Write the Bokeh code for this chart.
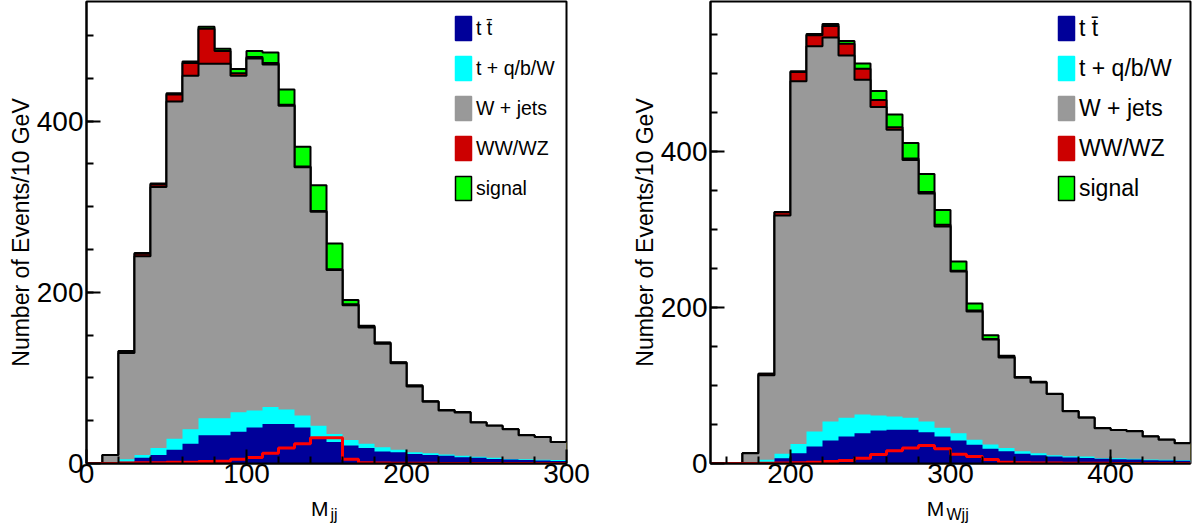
import numpy as np
from bokeh.plotting import figure
from bokeh.layouts import row, column
from bokeh.models import Range1d, Legend, LegendItem, FixedTicker
from bokeh.core.properties import value
from bokeh.embed import file_html
from bokeh.resources import INLINE

FONT = "Liberation Sans"

# ---------------- data ----------------
# left panel: M_jj, bins of 10 GeV (lower edges)
mjj_bin_low = [0, 10, 20, 30, 40, 50, 60, 70, 80, 90, 100, 110, 120, 130, 140,
               150, 160, 170, 180, 190, 200, 210, 220, 230, 240, 250, 260, 270, 280, 290]
mjj_ttbar = [0, 0, 2, 6.6, 10, 16, 23, 33, 33, 37, 42, 46, 46, 42, 29,
             25, 21, 18, 14, 13, 11, 10, 9, 7.4, 6.6, 5.4, 4.6, 4, 3.5, 3]
mjj_single_top = [0, 0, 3, 3.4, 8, 13, 17, 20, 20, 23, 20, 20, 17, 14, 15,
                  9.5, 6.5, 5, 5, 3, 2, 2, 1.5, 1.6, 1.4, 1.2, 0.8, 1, 1, 1]
mjj_wjets = [0, 10, 124, 232, 305, 394, 413, 414, 414, 393, 411, 400, 355, 290, 250,
             191.5, 157.5, 136, 121, 101, 77, 60, 51.5, 50.5, 40, 37.4, 34.6, 28, 26.5, 21]
mjj_ww = [0, 0, 2, 3, 3, 8, 15, 41, 15, 3, 2, 2, 1, 1, 1,
          1, 1, 1, 1, 1, 1, 0.5, 0.4, 0.5, 0, 0, 0, 0, 0, 0]
mjj_signal = [0, 0, 0.5, 1, 1, 1.5, 1.5, 2.3, 2.5, 5, 7, 12, 18, 23, 30,
              30, 5, 1, 0.5, 0.3, 0.2, 0.2, 0.1, 0.1, 0, 0, 0, 0, 0, 0]

# right panel: M_Wjj, bins of 10 GeV (lower edges)
mwjj_bin_low = [150, 160, 170, 180, 190, 200, 210, 220, 230, 240, 250, 260, 270, 280, 290,
                300, 310, 320, 330, 340, 350, 360, 370, 380, 390, 400, 410, 420, 430, 440]
mwjj_ttbar = [0, 0, 0, 1, 6.8, 13, 21.8, 29.5, 34.6, 38.9, 42.3, 43.2, 43.2, 40.2, 34.6,
              29.5, 24, 18.8, 15.8, 12.4, 10.7, 9, 7.7, 7, 6, 5.5, 5, 4.3, 3.8, 3.4]
mwjj_single_top = [0, 0, 0, 3.7, 5.6, 12, 19.2, 24.5, 24, 23.9, 19.2, 17.1, 15.4, 13.8, 11.1,
                   9.4, 6.3, 5.6, 4.2, 3.4, 2.5, 1.7, 1.7, 2, 0.8, 1.3, 1, 0.7, 0.9, 0.9]
mwjj_wjets = [0, 0, 13, 108.3, 305.6, 465, 494, 492, 464.4, 429.2, 395.5, 367.7, 330.4, 292, 258.3,
              207.1, 164.7, 134.6, 116, 94.2, 90.8, 78.3, 57.6, 49.6, 38.5, 36.2, 35.5, 29.6, 25.6, 21.7]
mwjj_ww = [0, 0, 0, 2, 4, 12, 14, 15, 15, 14, 9, 3, 2, 2, 2,
           1, 1, 0.5, 0.5, 0, 0, 0, 0, 0, 0, 0, 0, 0, 0, 0]
mwjj_signal = [0, 0, 0, 0.2, 0.5, 1, 1.7, 2.5, 3.8, 6.8, 11.5, 16.5, 20, 23, 19,
               12, 9, 5, 1.7, 1, 0.8, 0.5, 0.4, 0.3, 0.2, 0.1, 0.1, 0, 0, 0]

legend_labels = ["t t\u0304", "t + q/b/W", "W + jets", "WW/WZ", "signal"]
y_title = "Number of Events/10 GeV"

# ---------------- style ----------------
C_TT = "#000099"
C_ST = "#00ffff"
C_WJ = "#999999"
C_WW = "#cc0000"
C_SIG = "#00ff00"
C_SIGLINE = "#ff0000"

FRAME_H = 462
MAIN_H = FRAME_H + 1 + 33
TITLE_H = 31


def make_panel(bin_low, ttbar, single_top, wjets, ww, signal, x_start, x_end, px_per_unit,
               width, border_left, border_right, x_major, x_minor, y_major, y_minor,
               legend_loc, legend_font):
    low = np.array(bin_low, dtype=float)
    bw = low[1] - low[0]
    edges = np.append(low, low[-1] + bw)
    layers = [np.array(a, dtype=float) for a in (ttbar, single_top, wjets, ww, signal)]
    cum = np.cumsum(np.vstack(layers), axis=0)
    colors = [C_TT, C_ST, C_WJ, C_WW, C_SIG]
    y_max = FRAME_H / px_per_unit

    p = figure(width=width, height=MAIN_H, x_range=Range1d(x_start, x_end),
               y_range=Range1d(0, y_max), output_backend="svg", toolbar_location=None,
               min_border_left=border_left, min_border_right=border_right,
               min_border_top=1, min_border_bottom=33)
    p.grid.visible = False
    p.outline_line_color = "black"
    p.outline_line_width = 2
    p.background_fill_color = "white"
    p.border_fill_color = "white"

    def ext(a):
        return np.append(a, a[-1])

    # ROOT-like stack painting: highest cumulative first, each from zero
    for i in (4, 3, 2, 1, 0):
        p.varea_step(x=edges, y1=np.zeros(len(edges)), y2=ext(cum[i]), step_mode="after",
                     fill_color=colors[i])
        if i >= 2:
            p.step(x=edges, y=ext(cum[i]), mode="after", line_color="black", line_width=2)
    # signal alone, red outline
    sig = layers[4]
    p.step(x=edges, y=ext(sig), mode="after", line_color=C_SIGLINE, line_width=3)

    # axes
    p.xaxis.ticker = FixedTicker(ticks=x_major, minor_ticks=x_minor)
    p.yaxis.ticker = FixedTicker(ticks=y_major, minor_ticks=y_minor)
    for ax in (p.xaxis[0], p.yaxis[0]):
        ax.major_tick_in = 14
        ax.major_tick_out = 0
        ax.minor_tick_in = 7
        ax.minor_tick_out = 0
        ax.axis_line_width = 2
        ax.major_tick_line_width = 2
        ax.minor_tick_line_width = 2
        ax.major_label_text_font = FONT
        ax.major_label_text_font_size = "28px"
        ax.major_label_text_color = "black"
    p.xaxis.major_label_standoff = 0
    p.yaxis.major_label_standoff = 3
    p.yaxis.axis_label = y_title
    p.yaxis.axis_label_text_font = FONT
    p.yaxis.axis_label_text_font_size = "23px"
    p.yaxis.axis_label_text_font_style = "normal"
    p.yaxis.axis_label_text_color = "black"
    p.yaxis.axis_label_standoff = 0

    # legend (dummy one-box renderers placed outside the visible range)
    items = []
    for lab, col in zip(legend_labels, colors):
        r = p.quad(left=[x_start - 50], right=[x_start - 40], top=[-10], bottom=[-20],
                   fill_color=col, line_color="black" if col == C_SIG else col, line_width=1.5)
        items.append(LegendItem(label=lab, renderers=[r]))
    leg = Legend(items=items, location=legend_loc, glyph_width=20, glyph_height=30,
                 spacing=10, padding=0, margin=0, label_standoff=3, label_height=30,
                 label_text_font=FONT, label_text_font_size=legend_font,
                 label_text_color="black",
                 border_line_color=None, background_fill_alpha=0)
    p.add_layout(leg)
    return p


def make_title(p, width, border_left, border_right, parts):
    t = figure(width=width, height=TITLE_H, x_range=p.x_range, y_range=Range1d(0, TITLE_H),
               output_backend="svg", toolbar_location=None,
               x_axis_location=None, y_axis_location=None,
               min_border_left=border_left, min_border_right=border_right,
               min_border_top=0, min_border_bottom=0)
    t.grid.visible = False
    t.outline_line_color = None
    for x, y, txt, size in parts:
        t.text(x=[x], y=[y], text=[txt], text_font=value(FONT), text_font_size=size,
               text_baseline="alphabetic", text_align="left", text_color="black")
    return t


W1, BL1, BR1 = 620, 86, 54
W2, BL2, BR2 = 572, 90, 2

p1 = make_panel(mjj_bin_low, mjj_ttbar, mjj_single_top, mjj_wjets, mjj_ww, mjj_signal,
                0, 300, 0.856, W1, BL1, BR1,
                [0, 100, 200, 300], list(range(20, 300, 20)),
                [0, 200, 400], list(range(50, 540, 50)),
                (367, 260), "19.5px")
p2 = make_panel(mwjj_bin_low, mwjj_ttbar, mwjj_single_top, mwjj_wjets, mwjj_ww, mwjj_signal,
                150, 450, 0.78, W2, BL2, BR2,
                [200, 300, 400], list(range(160, 450, 20)),
                [0, 200, 400], list(range(50, 592, 50)),
                (346, 260), "23px")

t1 = make_title(p1, W1, BL1, BR1, [(140.3, 19, "M", "21px"), (152.5, 13, "jj", "16px")])
t2 = make_title(p2, W2, BL2, BR2, [(285.2, 19, "M", "21px"), (297.5, 13, "Wjj", "16px")])

layout = row(column(p1, t1), column(p2, t2))
open("out.html", "w").write(file_html(layout, INLINE))
